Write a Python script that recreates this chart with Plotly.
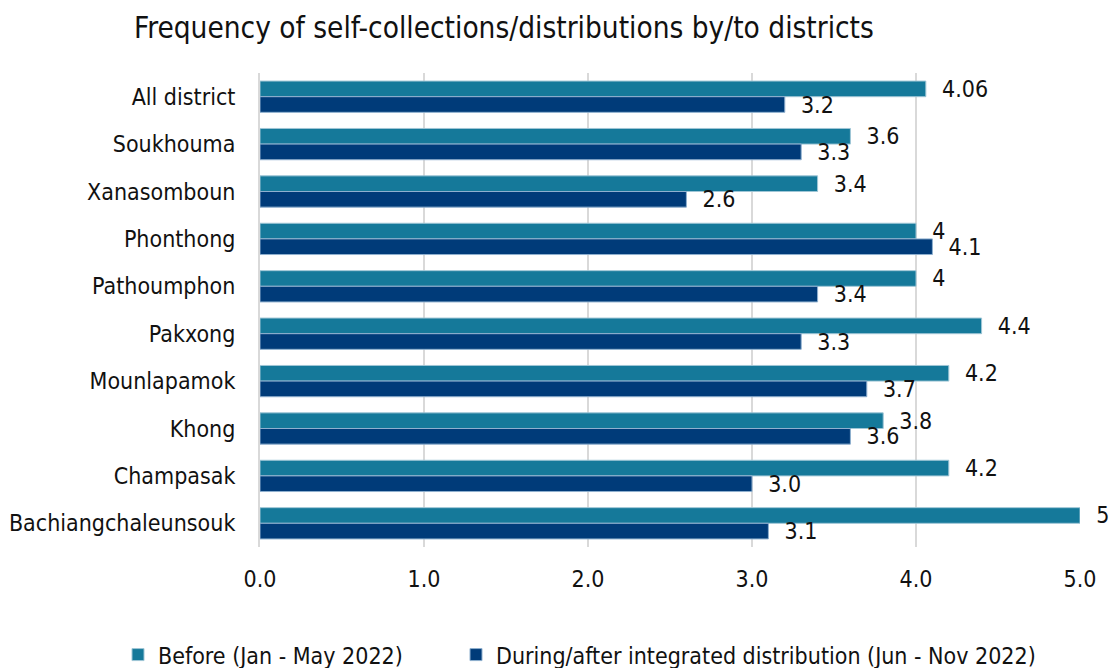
import plotly.graph_objects as go

districts = ["All district", "Soukhouma", "Xanasomboun", "Phonthong", "Pathoumphon",
             "Pakxong", "Mounlapamok", "Khong", "Champasak", "Bachiangchaleunsouk"]
before = [4.06, 3.6, 3.4, 4, 4, 4.4, 4.2, 3.8, 4.2, 5]
before_text = ["4.06", "3.6", "3.4", "4", "4", "4.4", "4.2", "3.8", "4.2", "5"]
during = [3.2, 3.3, 2.6, 4.1, 3.4, 3.3, 3.7, 3.6, 3.0, 3.1]
during_text = ["3.2", "3.3", "2.6", "4.1", "3.4", "3.3", "3.7", "3.6", "3.0", "3.1"]
x_ticks = [0, 1, 2, 3, 4, 5]
x_tick_labels = ["0.0", "1.0", "2.0", "3.0", "4.0", "5.0"]

FONT = "DejaVu Sans Condensed, DejaVu Sans, sans-serif"
C_BEFORE = "#15799A"
C_DURING = "#003B79"
FS = 23

fig = go.Figure()
fig.add_trace(go.Bar(
    y=districts, x=before, orientation="h", name="Before (Jan - May 2022)",
    marker=dict(color=C_BEFORE, line=dict(color="#9FC6D6", width=1)),
    text=before_text, texttemplate="\u00a0\u00a0%{text}",
    textposition="outside", cliponaxis=False, constraintext="none",
    textfont=dict(size=FS, color="#111111"), legend="legend",
))
fig.add_trace(go.Bar(
    y=districts, x=during, orientation="h",
    name="During/after integrated distribution (Jun - Nov 2022)",
    marker=dict(color=C_DURING, line=dict(color="#8FB0CF", width=1)),
    text=during_text, texttemplate="\u00a0\u00a0%{text}",
    textposition="outside", cliponaxis=False, constraintext="none",
    textfont=dict(size=FS, color="#111111"), legend="legend2",
))

legend_common = dict(orientation="h", xref="container", yref="container",
                     xanchor="left", y=0.02, yanchor="middle",
                     font=dict(size=FS), itemwidth=30, bgcolor="rgba(0,0,0,0)")

fig.update_layout(
    width=1110, height=668,
    margin=dict(l=260, r=30, t=73, b=121, autoexpand=False),
    paper_bgcolor="white", plot_bgcolor="white",
    font=dict(family=FONT, size=FS, color="#111111"),
    barmode="group", bargap=0.34, bargroupgap=0,
    title=dict(text="Frequency of self-collections/distributions by/to districts",
               x=0.454, xanchor="center", y=0.958, yanchor="middle",
               font=dict(size=29.5, family=FONT, color="#111111")),
    legend=dict(x=118 / 1110, **legend_common),
    legend2=dict(x=456 / 1110, **legend_common),
    showlegend=True,
)
fig.update_xaxes(range=[0, 5], tickvals=x_ticks, ticktext=x_tick_labels,
                 showgrid=True, gridcolor="#D9D9D9", gridwidth=2,
                 zeroline=False, showline=False, ticks="", ticklabelstandoff=16,
                 tickfont=dict(size=FS))
fig.update_yaxes(autorange="reversed", showgrid=False, showline=True,
                 linecolor="#D9D9D9", linewidth=2, ticks="", ticklabelstandoff=18,
                 tickfont=dict(size=FS))

fig.write_html("out.html")
